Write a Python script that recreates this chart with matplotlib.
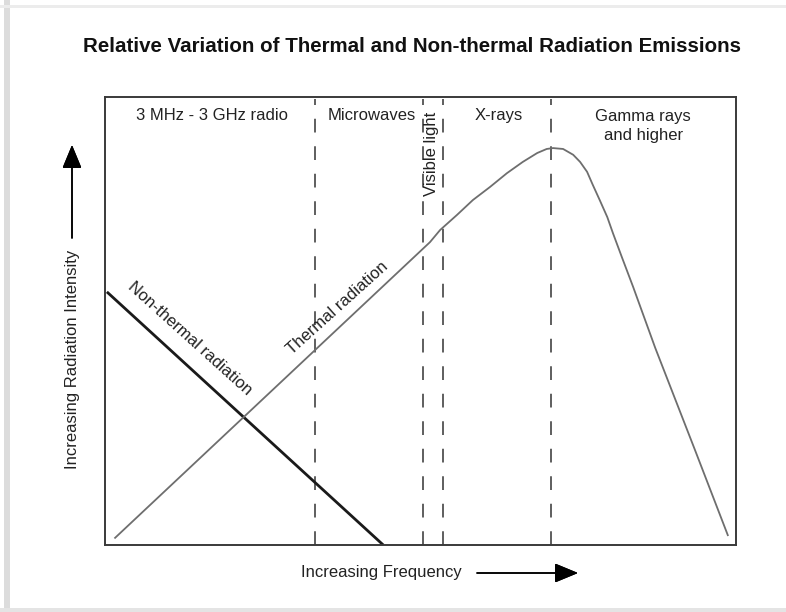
import matplotlib.pyplot as plt
import matplotlib.patches as mpatches

plt.rcParams['font.family'] = ['Liberation Sans', 'DejaVu Sans']

# relative units, frequency 0..10, intensity 0..10 (schematic chart)
nonthermal_f = [0.03, 4.41]
nonthermal_i = [5.65, 0.0]

thermal_f = [0.16, 5.15, 5.31, 5.58, 5.83, 6.10, 6.37, 6.62, 6.85, 7.00, 7.10,
             7.26, 7.42, 7.53, 7.64, 7.73, 7.84, 7.96, 8.05, 8.19, 8.37, 8.72,
             9.35, 9.87]
thermal_i = [0.16, 6.76, 7.03, 7.37, 7.70, 7.99, 8.30, 8.55, 8.75, 8.84, 8.86,
             8.84, 8.71, 8.55, 8.33, 8.04, 7.70, 7.32, 6.96, 6.43, 5.76, 4.40,
             2.12, 0.22]

band_edges = [3.33, 5.04, 5.36, 7.07]
band_names = ['3 MHz - 3 GHz radio', 'Microwaves', 'Visible light', 'X-rays',
              'Gamma rays\nand higher']

title = 'Relative Variation of Thermal and Non-thermal Radiation Emissions'
txt = '#222222'

fig = plt.figure(figsize=(7.86, 6.12), dpi=100)

# page shadow border
fig.patches.append(mpatches.Rectangle((4 / 786, 0), 6 / 786, 1, transform=fig.transFigure,
                                      color='#dcdcdc', lw=0))
fig.patches.append(mpatches.Rectangle((0, 604 / 612), 1, 3 / 612, transform=fig.transFigure,
                                      color='#ececec', lw=0))
fig.patches.append(mpatches.Rectangle((0, 0), 1, 4 / 612, transform=fig.transFigure,
                                      color='#e4e4e4', lw=0))

ax = fig.add_axes([105 / 786, 67 / 612, 631 / 786, 448 / 612])
ax.set_xlim(0, 10)
ax.set_ylim(0, 10)
ax.set_xticks([])
ax.set_yticks([])
for s in ax.spines.values():
    s.set_color('#3a3a3a')
    s.set_linewidth(1.4)

for xe in band_edges:
    ax.plot([xe, xe], [0, 9.95], color='#333333', lw=1.1, linestyle=(0, (9, 9)))

ax.plot(nonthermal_f, nonthermal_i, color='#1a1a1a', lw=2.0, solid_capstyle='butt')
ax.plot(thermal_f, thermal_i, color='#6e6e6e', lw=1.3, solid_joinstyle='round')

fs = 12
ax.text(1.69, 9.58, band_names[0], ha='center', va='center', fontsize=fs, color=txt)
ax.text(4.22, 9.58, band_names[1], ha='center', va='center', fontsize=fs, color=txt)
ax.text(5.18, 8.73, band_names[2], ha='center', va='center', fontsize=fs, color=txt,
        rotation=90)
ax.text(6.24, 9.58, band_names[3], ha='center', va='center', fontsize=fs, color=txt)
ax.text(8.53, 9.74, band_names[4], ha='center', va='top', fontsize=fs, color=txt,
        linespacing=1.35)

ax.text(1.35, 4.62, 'Non-thermal radiation', ha='center', va='center', fontsize=fs,
        color=txt, rotation=-42, rotation_mode='anchor')
ax.text(3.69, 5.29, 'Thermal radiation', ha='center', va='center', fontsize=fs,
        color=txt, rotation=42, rotation_mode='anchor')

fig.text(412 / 786, 1 - 47 / 612, title, ha='center', va='center', fontsize=14.8,
         fontweight='bold', color='#111111')

fig.text(72 / 786, 1 - 359 / 612, 'Increasing Radiation Intensity', ha='center',
         va='center', rotation=90, fontsize=fs, color=txt)
fig.text(381 / 786, 1 - 573 / 612, 'Increasing Frequency', ha='center', va='center',
         fontsize=fs, color=txt)

arrow = dict(arrowstyle='-|>,head_length=1.45,head_width=0.6', lw=1.1, color='black',
             shrinkA=0, shrinkB=0, mutation_scale=10)
fig.add_artist(plt.annotate('', xy=(72, 612 - 145), xytext=(72, 612 - 238),
                            xycoords='figure pixels', textcoords='figure pixels',
                            arrowprops=arrow))
fig.add_artist(plt.annotate('', xy=(578, 612 - 573), xytext=(477, 612 - 573),
                            xycoords='figure pixels', textcoords='figure pixels',
                            arrowprops=arrow))

fig.savefig('out.png', dpi=100, facecolor='white')
